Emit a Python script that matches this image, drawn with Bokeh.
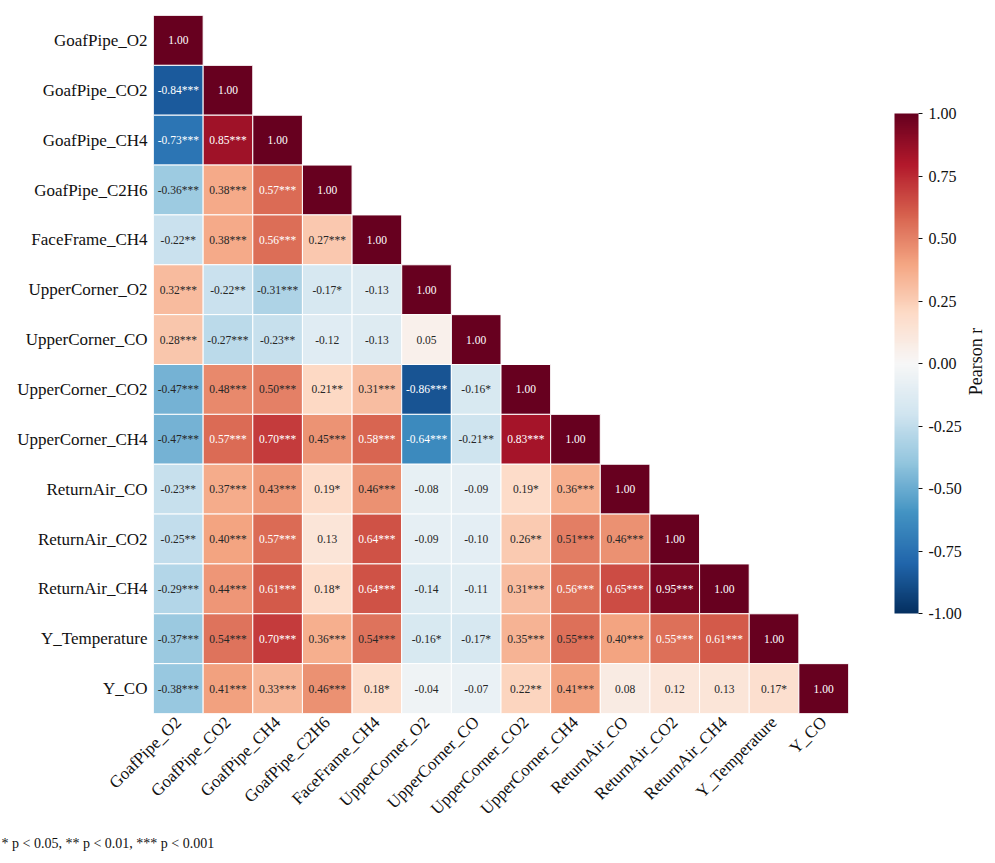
import math
import numpy as np
from bokeh.plotting import figure
from bokeh.layouts import row
from bokeh.models import (ColumnDataSource, LinearColorMapper, ColorBar,
                          FixedTicker, PrintfTickFormatter, Label, Title, Range1d)
from bokeh.transform import transform
from bokeh.core.properties import value
from bokeh.embed import file_html
from bokeh.resources import INLINE

variables = ["GoafPipe_O2", "GoafPipe_CO2", "GoafPipe_CH4", "GoafPipe_C2H6",
             "FaceFrame_CH4", "UpperCorner_O2", "UpperCorner_CO", "UpperCorner_CO2",
             "UpperCorner_CH4", "ReturnAir_CO", "ReturnAir_CO2", "ReturnAir_CH4",
             "Y_Temperature", "Y_CO"]

# lower triangle (row i, columns 0..i)
r_rows = [
    [1.00],
    [-0.84, 1.00],
    [-0.73, 0.85, 1.00],
    [-0.36, 0.38, 0.57, 1.00],
    [-0.22, 0.38, 0.56, 0.27, 1.00],
    [0.32, -0.22, -0.31, -0.17, -0.13, 1.00],
    [0.28, -0.27, -0.23, -0.12, -0.13, 0.05, 1.00],
    [-0.47, 0.48, 0.50, 0.21, 0.31, -0.86, -0.16, 1.00],
    [-0.47, 0.57, 0.70, 0.45, 0.58, -0.64, -0.21, 0.83, 1.00],
    [-0.23, 0.37, 0.43, 0.19, 0.46, -0.08, -0.09, 0.19, 0.36, 1.00],
    [-0.25, 0.40, 0.57, 0.13, 0.64, -0.09, -0.10, 0.26, 0.51, 0.46, 1.00],
    [-0.29, 0.44, 0.61, 0.18, 0.64, -0.14, -0.11, 0.31, 0.56, 0.65, 0.95, 1.00],
    [-0.37, 0.54, 0.70, 0.36, 0.54, -0.16, -0.17, 0.35, 0.548, 0.40, 0.552, 0.61, 1.00],
    [-0.38, 0.41, 0.33, 0.46, 0.18, -0.04, -0.07, 0.22, 0.41, 0.08, 0.12, 0.13, 0.17, 1.00],
]

star_rows = [
    [""],
    ["***", ""],
    ["***", "***", ""],
    ["***", "***", "***", ""],
    ["**", "***", "***", "***", ""],
    ["***", "**", "***", "*", "", ""],
    ["***", "***", "**", "", "", "", ""],
    ["***", "***", "***", "**", "***", "***", "*", ""],
    ["***", "***", "***", "***", "***", "***", "**", "***", ""],
    ["**", "***", "***", "*", "***", "", "", "*", "***", ""],
    ["**", "***", "***", "", "***", "", "", "**", "***", "***", ""],
    ["***", "***", "***", "*", "***", "", "", "***", "***", "***", "***", ""],
    ["***", "***", "***", "***", "***", "*", "*", "***", "***", "***", "***", "***", ""],
    ["***", "***", "***", "***", "*", "", "", "**", "***", "", "", "", "*", ""],
]

colorbar_ticks = [-1.0, -0.75, -0.5, -0.25, 0.0, 0.25, 0.5, 0.75, 1.0]
colorbar_title = "Pearson r"
footnote = "* p < 0.05, ** p < 0.01, *** p < 0.001"

# RdBu_r colormap (ColorBrewer stops)
stops = ["#053061", "#2166ac", "#4393c3", "#92c5de", "#d1e5f0", "#f7f7f7",
         "#fddbc7", "#f4a582", "#d6604d", "#b2182b", "#67001f"]
stop_rgb = np.array([[int(h[i:i + 2], 16) for i in (1, 3, 5)] for h in stops]) / 255.0
pos = np.linspace(0, 1, len(stops))
tt = np.linspace(0, 1, 256)
palette = ["#%02x%02x%02x" % tuple(int(round(np.interp(t, pos, stop_rgb[:, c]) * 255)) for c in range(3))
           for t in tt]

xs, ys, rs, labels, tcolors = [], [], [], [], []
for i, row_vals in enumerate(r_rows):
    for j, r in enumerate(row_vals):
        xs.append(variables[j])
        ys.append(variables[i])
        rs.append(r)
        labels.append(f"{r:.2f}{star_rows[i][j]}")
        tcolors.append("#ffffff" if abs(r) > 0.55 else "#262626")

src = ColumnDataSource(dict(x=xs, y=ys, r=rs, label=labels, tc=tcolors))
mapper = LinearColorMapper(palette=palette, low=-1, high=1)

FONT = "Liberation Serif"

p = figure(x_range=variables, y_range=list(reversed(variables)),
           width=965, height=863,
           min_border_left=153, min_border_top=15, min_border_bottom=150, min_border_right=117,
           output_backend="svg", toolbar_location=None, tools="")
p.outline_line_color = None
p.grid.grid_line_color = None
p.background_fill_color = "white"
p.border_fill_color = "white"

p.rect(x="x", y="y", width=1, height=1, source=src,
       fill_color=transform("r", mapper), line_color="white", line_width=1)
p.text(x="x", y="y", text="label", source=src, text_color="tc",
       text_align="center", text_baseline="middle",
       text_font=value(FONT), text_font_size="11.5px")

for ax in (p.xaxis[0], p.yaxis[0]):
    ax.axis_line_color = None
    ax.major_tick_line_color = None
    ax.minor_tick_line_color = None
    ax.major_tick_in = 0
    ax.major_tick_out = 0
    ax.major_label_text_font = FONT
    ax.major_label_text_font_size = "17px"
    ax.major_label_text_color = "#111111"
    ax.major_label_standoff = 6
p.xaxis[0].major_label_orientation = math.pi / 4

cb = ColorBar(color_mapper=mapper, width=24, height=500, location=(46, 100),
              margin=0, padding=0,
              ticker=FixedTicker(ticks=colorbar_ticks),
              formatter=PrintfTickFormatter(format="%.2f"),
              major_label_text_font=FONT, major_label_text_font_size="16px",
              major_label_text_color="#111111",
              major_tick_in=0, major_tick_out=4, major_tick_line_color="#111111",
              bar_line_color=None, border_line_color=None, background_fill_color=None,
              label_standoff=6)
p.add_layout(cb, "right")

p.add_layout(Title(text=footnote, align="left", offset=-152, standoff=10,
                   text_font=FONT, text_font_size="14px", text_font_style="normal",
                   text_color="#111111"), "below")

# narrow strip holding the colour-bar title
q = figure(width=30, height=863, x_range=Range1d(0, 1), y_range=Range1d(0, 1),
           min_border=0, min_border_left=0, min_border_right=0, min_border_top=0, min_border_bottom=0,
           x_axis_type=None, y_axis_type=None,
           output_backend="svg", toolbar_location=None, tools="")
q.outline_line_color = None
q.grid.grid_line_color = None
q.background_fill_color = "white"
q.border_fill_color = "white"
q.add_layout(Label(x=10, y=352, x_units="screen", y_units="screen", text=colorbar_title,
                   angle=math.pi / 2, text_align="center", text_baseline="middle",
                   text_font=FONT, text_font_size="18px", text_color="#111111"))

layout = row(p, q, spacing=0)
open("out.html", "w").write(file_html(layout, INLINE))
